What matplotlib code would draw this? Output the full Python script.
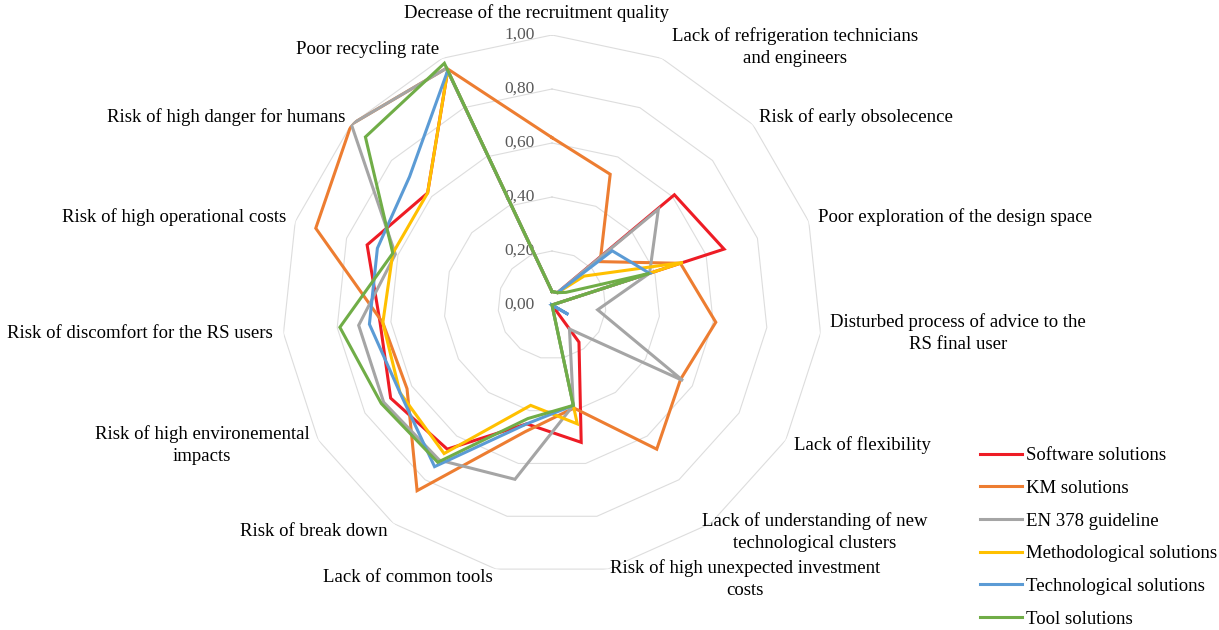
import numpy as np
import matplotlib
matplotlib.use("Agg")
import matplotlib.pyplot as plt
from matplotlib.transforms import offset_copy

plt.rcParams['font.family'] = ['Liberation Serif', 'DejaVu Serif']

categories = [
    "Decrease of the recruitment quality",
    "Lack of refrigeration technicians\nand engineers",
    "Risk of early obsolecence",
    "Poor exploration of the design space",
    "Disturbed process of advice to the\nRS final user",
    "Lack of flexibility",
    "Lack of understanding of new\ntechnological clusters",
    "Risk of high unexpected investment\ncosts",
    "Lack of common tools",
    "Risk of break down",
    "Risk of high environemental\nimpacts",
    "Risk of discomfort for the RS users",
    "Risk of high operational costs",
    "Risk of high danger for humans",
    "Poor recycling rate",
]

series_names = ["Software solutions", "KM solutions", "EN 378 guideline",
                "Methodological solutions", "Technological solutions", "Tool solutions"]

software = [0.05, 0.05, 0.61, 0.67, 0.00, 0.00, 0.17, 0.52, 0.45, 0.66, 0.69, 0.64, 0.72, 0.62, 0.95]
km = [0.62, 0.53, 0.24, 0.50, 0.61, 0.55, 0.66, 0.39, 0.48, 0.85, 0.62, 0.63, 0.92, 1.00, 0.96]
en378 = [0.05, 0.05, 0.53, 0.38, 0.17, 0.56, 0.11, 0.38, 0.66, 0.71, 0.72, 0.72, 0.61, 1.00, 0.96]
methodological = [0.05, 0.05, 0.16, 0.51, 0.00, 0.00, 0.00, 0.45, 0.38, 0.68, 0.65, 0.63, 0.62, 0.62, 0.95]
technological = [0.05, 0.05, 0.30, 0.38, 0.00, 0.07, 0.00, 0.38, 0.45, 0.74, 0.65, 0.68, 0.68, 0.71, 0.95]
tool = [0.05, 0.05, 0.07, 0.38, 0.00, 0.00, 0.00, 0.38, 0.43, 0.72, 0.73, 0.79, 0.62, 0.93, 0.98]

tick_values = [0.0, 0.2, 0.4, 0.6, 0.8, 1.0]
tick_labels = ["0,00", "0,20", "0,40", "0,60", "0,80", "1,00"]

# styles / layout (not data)
colors = ["#EE1C25", "#ED7D31", "#A5A5A5", "#FFC000", "#5B9BD5", "#70AD47"]
label_pos_px = [
    (537, 13), (795, 47), (856, 117), (955, 217), (958, 333), (862, 445),
    (815, 532), (745, 579), (408, 578), (314, 531), (202, 445), (140, 333),
    (174, 217), (226, 117), (368, 50),
]

W, H = 1219, 630
fig = plt.figure(figsize=(W / 100, H / 100), dpi=100)
cx, cy, R = 552, 305, 270
ax = fig.add_axes([(cx - R) / W, (H - cy - R) / H, 2 * R / W, 2 * R / H], projection='polar')
ax.set_theta_zero_location('N')
ax.set_theta_direction(-1)
ax.set_ylim(0, 1)
ax.grid(False)
ax.set_xticks([])
ax.set_yticks([])
ax.spines['polar'].set_visible(False)
ax.patch.set_alpha(0)

n = len(categories)
angles = np.arange(n) * 2 * np.pi / n
closed_angles = np.concatenate([angles, angles[:1]])

# polygon grid
for v in tick_values[1:]:
    ax.plot(closed_angles, [v] * (n + 1), color="#DDDDDD", lw=0.8, zorder=1)

# tick labels
tr = offset_copy(ax.transData, fig=fig, x=-17, y=0, units='dots')
for v, lab in zip(tick_values, tick_labels):
    ax.text(0, v, lab, transform=tr, ha='right', va='center', fontsize=12.5, color='#595959')

all_series = [software, km, en378, methodological, technological, tool]
for name, vals, c in zip(series_names, all_series, colors):
    vv = list(vals) + [vals[0]]
    ax.plot(closed_angles, vv, color=c, lw=2.2, label=name, zorder=3,
            solid_joinstyle='miter')

# category labels
for lab, (px, py) in zip(categories, label_pos_px):
    fig.text(px / W, 1 - py / H, lab, ha='center', va='center', fontsize=13.5,
             color='black', linespacing=1.35)

handles, labels = ax.get_legend_handles_labels()
fig.legend(handles, labels, loc='upper left', bbox_to_anchor=(980 / W, 1 - 447 / H),
           frameon=False, fontsize=13.5, handlelength=2.24, handletextpad=0.21,
           labelspacing=0.83, borderpad=0, borderaxespad=0)

fig.savefig("out.png", dpi=100)
